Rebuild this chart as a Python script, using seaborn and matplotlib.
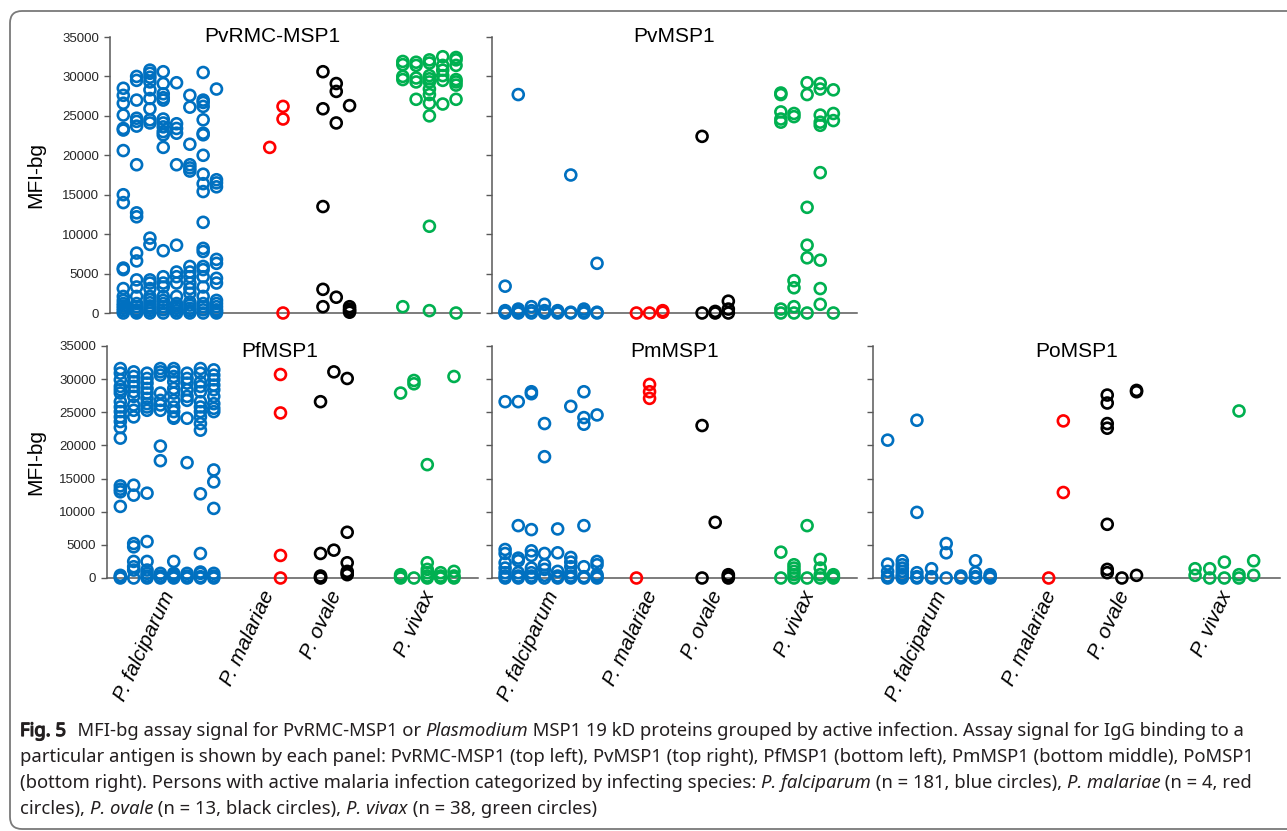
import numpy as np
import pandas as pd
import matplotlib
matplotlib.use("Agg")
import matplotlib.pyplot as plt
import matplotlib.patheffects as pe
import seaborn as sns
from matplotlib.patches import PathPatch
from matplotlib.path import Path

# ---------------- data (values in thousands of MFI-bg) ----------------
PANELS = ["PvRMC-MSP1", "PvMSP1", "PfMSP1", "PmMSP1", "PoMSP1"]
SPECIES = ["P. falciparum", "P. malariae", "P. ovale", "P. vivax"]
COLORS = {"P. falciparum": "#0070C0", "P. malariae": "#FF0000",
          "P. ovale": "#000000", "P. vivax": "#00B050"}
Y_TICKS = [0, 5000, 10000, 15000, 20000, 25000, 30000, 35000]

# each species: list of jitter columns, each a list of values
PVRMC_FAL = [
    [28.5, 27.6, 26.6, 25.1, 23.4, 23.2, 20.6, 15.0, 14.0, 5.7, 5.5, 3.1, 2.1, 1.6, 1.2, 0.9, 0.6, 0.3, 0],
    [30.0, 29.5, 27.0, 24.7, 24.3, 23.7, 18.8, 12.7, 12.2, 7.6, 6.6, 4.2, 3.3, 2.1, 1.2, 0.8, 0.4, 0.2, 0],
    [30.8, 30.4, 29.9, 29.3, 28.3, 27.2, 25.9, 24.5, 24.1, 9.5, 8.7, 4.2, 3.8, 3.1, 2.1, 1.7, 1.3, 0.9, 0.6, 0.3, 0],
    [30.6, 29.1, 27.8, 27.3, 27.0, 24.6, 24.1, 23.6, 23.0, 22.6, 21.0, 7.9, 4.6, 3.8, 3.3, 2.1, 1.6, 1.2, 0.8, 0.4, 0],
    [29.2, 24.0, 23.4, 22.8, 18.8, 8.6, 5.2, 4.6, 3.8, 2.1, 1.2, 0.9, 0.6, 0.3, 0],
    [27.6, 26.1, 21.4, 18.8, 18.4, 18.0, 5.9, 5.2, 4.6, 3.8, 3.1, 2.5, 1.4, 1.0, 0.6, 0.3, 0],
    [30.5, 27.0, 26.7, 26.2, 24.5, 22.8, 22.6, 20.0, 17.6, 16.4, 15.4, 11.5, 8.2, 7.8, 5.9, 5.5, 4.6, 3.3, 2.1, 1.2, 0.8, 0.4, 0],
    [28.4, 16.9, 16.5, 16.0, 6.8, 6.3, 4.4, 3.8, 1.6, 1.2, 0.8, 0.4, 0.2, 0],
]
PVRMC_MAL = [[], [21.0], [26.2, 24.6, 0]]
PVRMC_OVA = [[30.6, 25.9, 13.5, 3.0, 0.8], [29.1, 28.1, 24.1, 2.0], [26.3, 0.8, 0.5, 0.3, 0.1]]
PVRMC_VIV = [
    [31.9, 31.5, 30.0, 29.6, 0.8],
    [31.8, 31.4, 29.8, 29.3, 27.1],
    [32.1, 31.7, 30.1, 29.7, 29.3, 28.4, 27.7, 26.6, 25.0, 11.0, 0.3],
    [32.5, 31.4, 30.8, 30.1, 29.5, 26.5],
    [32.4, 32.1, 31.4, 29.6, 29.3, 28.9, 27.1, 0],
]

PVMSP_FAL = [
    [3.4, 0.3, 0.1, 0], [27.7, 0.5, 0.3, 0.1, 0], [0.8, 0.3, 0], [1.1, 0.3, 0.1, 0],
    [0.3, 0.1, 0], [17.5, 0.1, 0], [0.5, 0.2, 0], [6.3, 0.1, 0],
]
PVMSP_MAL = [[0], [0], [0.3, 0.1]]
PVMSP_OVA = [[22.4, 0], [0.2, 0], [1.5, 0.5, 0]]
PVMSP_VIV = [
    [27.9, 27.7, 25.5, 24.6, 24.2, 0.5, 0],
    [25.3, 24.9, 4.1, 3.2, 0.8, 0],
    [29.2, 27.7, 13.4, 8.6, 7.0, 0],
    [29.1, 28.4, 25.1, 24.2, 23.8, 17.8, 6.7, 3.1, 1.1],
    [28.3, 25.3, 24.4, 0],
]

PFMSP_FAL = [
    [31.6, 30.9, 29.9, 28.9, 28.4, 27.9, 26.6, 25.8, 25.1, 24.3, 23.6, 22.7, 21.1, 13.9, 13.4, 13.0, 10.8, 0.4, 0.2, 0],
    [31.1, 30.4, 29.6, 28.9, 28.1, 27.4, 26.1, 25.3, 24.3, 14.0, 12.5, 5.2, 4.7, 2.5, 1.7, 1.2, 0],
    [30.9, 30.1, 29.4, 28.6, 27.9, 27.1, 26.3, 25.8, 25.3, 12.8, 5.5, 2.5, 1.2, 0.7, 0.3, 0],
    [31.6, 31.1, 30.6, 27.9, 26.8, 26.1, 25.3, 19.9, 17.7, 0.7, 0.3, 0],
    [31.6, 31.1, 30.4, 29.6, 28.6, 27.9, 26.8, 25.8, 25.1, 24.3, 24.1, 2.5, 0.7, 0.4, 0.2, 0],
    [30.9, 30.1, 29.4, 28.4, 27.4, 26.8, 24.1, 17.4, 0.7, 0.3, 0],
    [31.6, 30.9, 29.6, 28.9, 28.1, 26.6, 25.8, 25.1, 24.3, 23.3, 22.3, 12.7, 3.7, 0.9, 0.7, 0.2, 0],
    [31.4, 30.6, 29.9, 29.1, 28.4, 27.4, 26.3, 25.6, 25.1, 16.3, 14.5, 10.5, 0.7, 0.3, 0],
]
PFMSP_MAL = [[], [], [30.7, 24.9, 3.4, 0]]
PFMSP_OVA = [[26.6, 3.7, 0.3, 0.1, 0], [31.1, 4.2], [30.1, 6.9, 2.3, 1.0, 0.7, 0.5]]
PFMSP_VIV = [
    [27.9, 0.5, 0.2, 0], [29.8, 29.3, 0], [17.1, 2.3, 1.3, 0.8, 0.3, 0], [0.8, 0.3, 0], [30.4, 1.0, 0.3, 0],
]

PMMSP_FAL = [
    [26.6, 4.3, 3.7, 2.3, 1.5, 0.8, 0.3, 0],
    [26.6, 7.9, 3.0, 2.6, 0.8, 0.3, 0],
    [28.1, 27.8, 7.3, 4.1, 3.4, 1.5, 0.8, 0.3, 0],
    [23.3, 18.3, 3.7, 2.0, 1.3, 0.4, 0],
    [7.4, 3.8, 1.0, 0.3, 0],
    [25.9, 3.1, 2.4, 1.7, 0.8, 0.3, 0],
    [28.1, 24.2, 23.2, 7.9, 1.7, 0.2, 0],
    [24.6, 2.5, 2.0, 0.5, 0.2, 0],
]
PMMSP_MAL = [[0], [29.2, 28.1, 27.1], []]
PMMSP_OVA = [[23.0, 0], [8.4], [0.5, 0.3, 0]]
PMMSP_VIV = [[3.9, 0], [2.0, 1.5, 1.0, 0.5, 0], [7.9, 0], [2.8, 1.5, 0.5, 0], [0.5, 0.2, 0]]

POMSP_FAL = [
    [20.8, 2.1, 1.0, 0.3, 0],
    [2.6, 2.0, 1.5, 1.0, 0.5, 0.2, 0],
    [23.8, 9.9, 0.8, 0.2, 0],
    [1.4, 0.2, 0],
    [5.2, 3.8, 0],
    [0.3, 0],
    [2.6, 0.8, 0.2, 0],
    [0.5, 0.2, 0],
]
POMSP_MAL = [[], [0], [23.7, 12.9]]
POMSP_OVA = [[27.6, 26.4, 23.3, 22.6, 8.1, 1.3, 0.8], [0], [28.3, 28.1, 0.4]]
POMSP_VIV = [[1.4, 0.4], [1.4, 0], [2.4, 0], [25.2, 0.5, 0], [2.6, 0.4]]

PANEL_DATA = {
    "PvRMC-MSP1": [PVRMC_FAL, PVRMC_MAL, PVRMC_OVA, PVRMC_VIV],
    "PvMSP1": [PVMSP_FAL, PVMSP_MAL, PVMSP_OVA, PVMSP_VIV],
    "PfMSP1": [PFMSP_FAL, PFMSP_MAL, PFMSP_OVA, PFMSP_VIV],
    "PmMSP1": [PMMSP_FAL, PMMSP_MAL, PMMSP_OVA, PMMSP_VIV],
    "PoMSP1": [POMSP_FAL, POMSP_MAL, POMSP_OVA, POMSP_VIV],
}

# ---------------- layout ----------------
SLOTS = [list(range(1, 9)), [11, 12, 13], [16, 17, 18], [22, 23, 24, 25, 26]]
XMAX = 27.8
W, H = 1287, 831

sns.set_style("white")
plt.rcParams["font.family"] = ["Liberation Sans", "DejaVu Sans"]

fig = plt.figure(figsize=(W / 100, H / 100), dpi=100)
fig.patch.set_facecolor("white")

# panel boxes in pixels: (x0, x1, ytop, ybottom, title_x_frac, title_y_frac, ticklabels, xlabels)
BOXES = {
    "PvRMC-MSP1": (110, 480, 37, 313, 0.44, 1.0, True, False),
    "PvMSP1": (492, 857, 37, 313, 0.50, 1.0, False, False),
    "PfMSP1": (107, 478, 346, 578, 0.466, 0.975, True, True),
    "PmMSP1": (492, 857, 346, 578, 0.50, 0.975, False, True),
    "PoMSP1": (873, 1280, 346, 578, 0.50, 0.975, False, True),
}
AXIS_GREY = "#595959"

for panel in PANELS:
    x0, x1, yt, yb, tx, ty, show_labels, show_x = BOXES[panel]
    ax = fig.add_axes([x0 / W, 1 - yb / H, (x1 - x0) / W, (yb - yt) / H])
    rows = []
    for sp, cols, slots in zip(SPECIES, PANEL_DATA[panel], SLOTS):
        for slot, col in zip(slots, cols):
            for v in col:
                rows.append({"x": slot, "y": v * 1000.0, "species": sp})
    df = pd.DataFrame(rows)
    sns.scatterplot(data=df, x="x", y="y", hue="species", hue_order=SPECIES,
                    palette=COLORS, s=62, linewidth=1.9, legend=False, ax=ax,
                    clip_on=False, zorder=3)
    for coll in ax.collections:
        fc = coll.get_facecolors()
        coll.set_edgecolors(fc)
        coll.set_facecolors("none")
    ax.set_xlim(0, XMAX)
    ax.set_ylim(0, 35000)
    ax.set_xticks([])
    ax.set_yticks(Y_TICKS)
    if show_labels:
        ax.set_yticklabels([str(t) for t in Y_TICKS])
    else:
        ax.set_yticklabels([])
    ax.tick_params(axis="y", direction="out", length=4, width=1.0, color=AXIS_GREY,
                   labelsize=9.5, labelcolor="#262626", pad=4, left=True)
    for s in ["top", "right"]:
        ax.spines[s].set_visible(False)
    for s in ["left", "bottom"]:
        ax.spines[s].set_color(AXIS_GREY)
        ax.spines[s].set_linewidth(1.1)
    ax.set_xlabel("")
    ax.set_ylabel("")
    ax.patch.set_alpha(0)
    ax.text(tx, ty, panel, transform=ax.transAxes, ha="center", va="center",
            fontsize=15, color="#000000")
    if show_x:
        for sp, slots in zip(SPECIES, SLOTS):
            ax.annotate(sp, xy=(np.mean(slots), 0), xycoords=("data", "axes fraction"),
                        xytext=(2, -10), textcoords="offset points",
                        rotation=65, rotation_mode="anchor", ha="right", va="center",
                        fontsize=15, fontstyle="italic", color="#000000")

# y-axis titles
for yc in [(37 + 313) / 2, (346 + 578) / 2]:
    fig.text(36 / W, 1 - yc / H, "MFI-bg", rotation=90, ha="center", va="center",
             fontsize=15, color="#000000")

# open rounded frame: top, left and bottom sides (right side lies off the image)
L, T, B, R, RAD = 10.0, 11.0, 829.0, float(W), 12.0
verts = [(R, H - T), (L + RAD, H - T), (L, H - T), (L, H - T - RAD),
         (L, H - B + RAD), (L, H - B), (L + RAD, H - B), (R, H - B)]
codes = [Path.MOVETO, Path.LINETO, Path.CURVE3, Path.CURVE3,
         Path.LINETO, Path.CURVE3, Path.CURVE3, Path.LINETO]
verts_in = [(x / 100.0, y / 100.0) for x, y in verts]
frame = PathPatch(Path(verts_in, codes), transform=fig.dpi_scale_trans, fill=False,
                  edgecolor="#7a7a7a", linewidth=1.3, zorder=0)
fig.add_artist(frame)

# caption with mixed styles
CAPTION = [
    [("Fig. 5", "bold"), ("  MFI-bg assay signal for PvRMC-MSP1 or ", "normal"), ("Plasmodium", "italic"),
     (" MSP1 19 kD proteins grouped by active infection. Assay signal for IgG binding to a", "normal")],
    [("particular antigen is shown by each panel: PvRMC-MSP1 (top left), PvMSP1 (top right), PfMSP1 (bottom left), PmMSP1 (bottom middle), PoMSP1", "normal")],
    [("(bottom right). Persons with active malaria infection categorized by infecting species: ", "normal"),
     ("P. falciparum", "italic"), (" (n = 181, blue circles), ", "normal"), ("P. malariae", "italic"),
     (" (n = 4, red", "normal")],
    [("circles), ", "normal"), ("P. ovale", "italic"), (" (n = 13, black circles), ", "normal"),
     ("P. vivax", "italic"), (" (n = 38, green circles)", "normal")],
]
LINE_Y = [736, 762, 788, 814]
TEXT_COLOR = "#231f20"
renderer = fig.canvas.get_renderer()


def draw_line(segments, ypx, size, draw=True):
    x = 20.0
    for text, style in segments:
        kw = dict(fontsize=size, family=["Noto Sans", "DejaVu Sans"], color=TEXT_COLOR,
                  ha="left", va="baseline")
        if style == "italic":
            kw["fontstyle"] = "italic"
        t = fig.text(x / W, 1 - ypx / H, text.replace(" ", "\u00a0"), **kw)
        if style == "bold":
            t.set_path_effects([pe.withStroke(linewidth=0.9, foreground=TEXT_COLOR)])
        w = t.get_window_extent(renderer).width
        if style == "bold":
            w += 1.5
        if not draw:
            t.remove()
        x += w
    return x - 20.0


base = 11.5
w1 = draw_line(CAPTION[0], LINE_Y[0], base, draw=False)
size = base * 1225.0 / w1
for segs, yy in zip(CAPTION, LINE_Y):
    draw_line(segs, yy, size)

fig.savefig("out.png", dpi=100)
